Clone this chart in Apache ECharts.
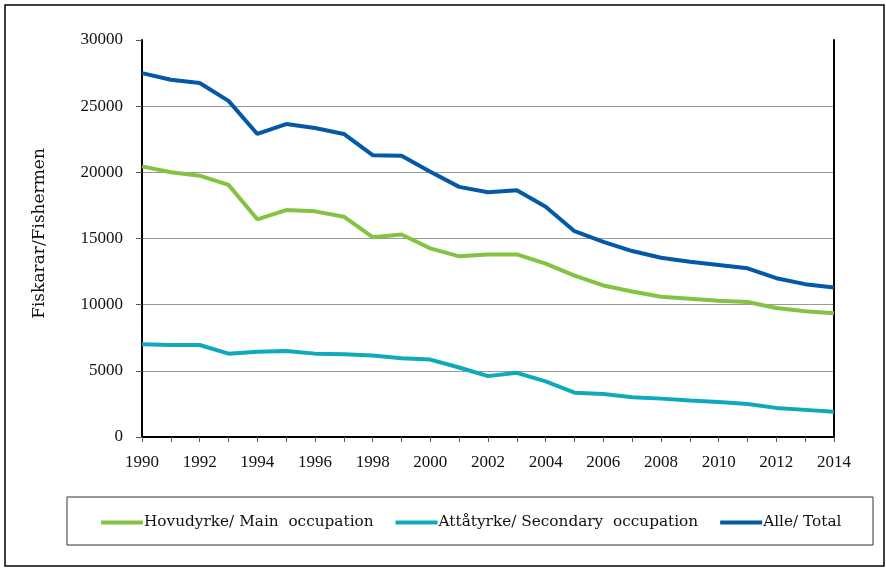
<!DOCTYPE html>
<html><head><meta charset="utf-8">
<script src="https://cdn.jsdelivr.net/npm/echarts@6/dist/echarts.min.js"></script>
<style>html,body{margin:0;padding:0;background:#fff}#c{width:886px;height:568px}</style>
</head><body><div id="c"></div>
<script>
var years = ['1990','1991','1992','1993','1994','1995','1996','1997','1998','1999','2000','2001','2002','2003','2004','2005','2006','2007','2008','2009','2010','2011','2012','2013','2014'];
var mainOcc = [20450,20000,19750,19050,16450,17150,17050,16650,15100,15300,14250,13650,13800,13800,13100,12200,11450,11000,10600,10450,10300,10200,9750,9500,9350];
var secondaryOcc = [7000,6950,6950,6300,6450,6500,6300,6250,6150,5950,5850,5250,4600,4850,4200,3350,3250,3000,2900,2750,2650,2500,2200,2050,1900];
var total = [27500,27000,26750,25400,22900,23650,23350,22900,21300,21250,20050,18900,18500,18650,17400,15550,14750,14050,13550,13250,13000,12750,12000,11550,11300];
var names = ['Hovudyrke/ Main  occupation','Attåtyrke/ Secondary  occupation','Alle/ Total'];
var numFont = 'Liberation Serif';
var txtFont = 'DejaVu Serif';
var chart = echarts.init(document.getElementById('c'));
chart.setOption({
  animation:false,
  backgroundColor:'#fff',
  textStyle:{fontFamily:numFont},
  graphic:[
    {type:'rect',shape:{x:5,y:5,width:879,height:561},style:{fill:'none',stroke:'#000',lineWidth:1.5},z:-1},
    {type:'rect',shape:{x:67,y:497,width:806,height:48},style:{fill:'none',stroke:'#333',lineWidth:1},z:-1}
  ],
  grid:{left:142,right:52,top:40,bottom:131},
  legend:{
    left:96, top:510, itemGap:22, itemWidth:42, itemHeight:4, icon:'rect',
    textStyle:{fontFamily:txtFont,fontSize:15.3,color:'#111',padding:[0,0,0,-4]},
    data:names
  },
  xAxis:{
    type:'category', data:years, boundaryGap:false,
    axisLine:{lineStyle:{color:'#000',width:2}},
    axisTick:{show:true,interval:0,length:5,lineStyle:{color:'#555'}},
    axisLabel:{interval:1,margin:17,fontFamily:numFont,fontSize:17,color:'#111'},
    splitLine:{show:false}
  },
  yAxis:[{
    type:'value', min:0, max:30000, interval:5000,
    name:'Fiskarar/Fishermen', nameLocation:'middle', nameGap:94,
    nameTextStyle:{fontFamily:txtFont,fontSize:17,color:'#111',padding:[0,0,0,10]},
    axisLine:{show:true,lineStyle:{color:'#000',width:2}},
    axisTick:{show:true,length:6,lineStyle:{color:'#555'}},
    axisLabel:{margin:19,fontFamily:numFont,fontSize:17,color:'#111',formatter:function(v){return String(v);}},
    splitLine:{show:true,lineStyle:{color:['#999','#999','#999','#999','#999','#999','rgba(0,0,0,0)'],width:1}}
  },{
    type:'value', min:0, max:30000, interval:5000, position:'right',
    axisLine:{show:true,lineStyle:{color:'#000',width:2}},
    axisTick:{show:false}, axisLabel:{show:false}, splitLine:{show:false}
  }],
  series:[
    {name:names[0],type:'line',data:mainOcc,symbol:'none',lineStyle:{width:4,color:'#84C341'},itemStyle:{color:'#84C341'}},
    {name:names[1],type:'line',data:secondaryOcc,symbol:'none',lineStyle:{width:4,color:'#0EAABB'},itemStyle:{color:'#0EAABB'}},
    {name:names[2],type:'line',data:total,symbol:'none',lineStyle:{width:4,color:'#0358A7'},itemStyle:{color:'#0358A7'}}
  ]
});
</script></body></html>
